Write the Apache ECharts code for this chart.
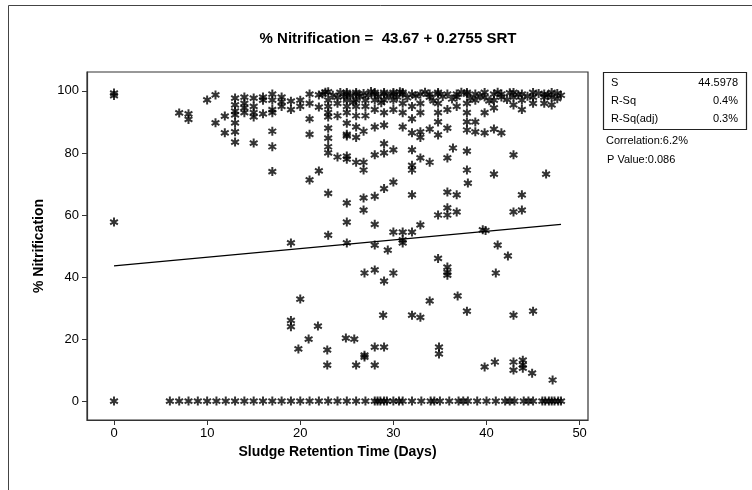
<!DOCTYPE html>
<html><head><meta charset="utf-8">
<script src="https://cdn.jsdelivr.net/npm/echarts@6/dist/echarts.min.js"></script>
<style>html,body{margin:0;padding:0;background:#fff}#c{width:752px;height:490px}</style>
</head><body><div id="c"></div>
<script>
// ---- data ----
var titleText = '% Nitrification =  43.67 + 0.2755 SRT';
var xName = 'Sludge Retention Time (Days)';
var yName = '% Nitrification';
var xTicks = [0, 10, 20, 30, 40, 50];
var yTicks = [0, 20, 40, 60, 80, 100];
var fitLine = [[0, 43.6], [48, 57.0]];
var statLabels = ['S', 'R-Sq', 'R-Sq(adj)'];
var statValues = ['44.5978', '0.4%', '0.3%'];
var extraText = ['Correlation:6.2%', 'P Value:0.086'];

// points with % nitrification = 0
var zeroRowX = [0, 6, 7, 8, 9, 10, 11, 12, 13, 14, 15, 16, 17, 18, 19, 20, 21, 22, 23, 24, 25, 26, 27,
  28, 28.3, 28.6, 29, 29.3, 30, 30.6, 31, 32, 33, 34, 34.4, 35, 36, 37, 37.5, 38, 39, 40, 41, 42, 42.5,
  43, 44, 44.5, 45, 46, 46.3, 46.7, 47, 47.3, 47.7, 48];

// upper cluster, SRT < 22
var earlyPts = [[0, 98.5], [0, 99.3], [0, 57.7], [7, 92.9], [8, 92.6], [8, 90.8], [10, 97.1], [10.9, 98.7],
  [10.9, 89.7], [11.9, 91.9], [11.9, 86.5], [13, 97.7], [13, 95.5], [13, 93.5], [13, 92.3], [13, 89.7],
  [13, 86.8], [13, 83.5], [14, 98], [14, 96], [14, 94.5], [14, 93], [15, 97.7], [15, 95], [15, 93],
  [15, 91.6], [15, 83.2], [16, 98], [16, 97], [16, 92.6], [17, 99], [17, 97], [17, 94], [17, 93],
  [17, 87], [17, 82], [17, 74], [18, 98], [18, 96.5], [18, 95], [19, 96.7], [19, 94], [20, 97], [20, 95],
  [21, 99], [21, 96], [21, 91], [21, 86], [21, 71.3], [22, 98.7], [22, 94.8], [22, 74.2], [22.4, 99]];

// upper band, SRT >= 22
var topBand = [[22.7, 99.6], [23, 99.7], [23, 97], [23, 95], [23, 93], [23, 91.6], [23.5, 98.6], [24, 98],
  [24, 96], [24, 92], [24.3, 99.5], [24.7, 98.2], [25, 99.5], [25, 99], [25, 97], [25, 95], [25, 93],
  [25.4, 98.5], [25.7, 96.4], [26, 99.5], [26, 99], [26, 97], [26, 95], [26, 92], [26.4, 98.3],
  [26.8, 99.2], [27, 97], [27, 95], [27, 92], [27.3, 98.6], [27.6, 99.8], [28, 99.5], [28, 99], [28, 97],
  [28, 94], [28.4, 98.2], [28.7, 96.2], [29, 99.5], [29, 99], [29, 97], [29, 93], [29.5, 98.4],
  [30, 99.5], [30, 99], [30, 97], [30, 94], [30.4, 98.1], [30.7, 99.7], [31, 99.5], [31, 99], [31, 96],
  [31, 93], [31.5, 97.8], [32, 99], [32, 95], [32, 91], [32.4, 98.4], [32.9, 99], [32.9, 96], [32.9, 93],
  [33.4, 99.6], [33.9, 99], [33.9, 98], [34.3, 96.8], [34.8, 99.5], [34.8, 99], [34.8, 96], [34.8, 93],
  [34.8, 90], [35.3, 98.2], [35.8, 99], [35.8, 94], [36.3, 97.4], [36.8, 99], [36.8, 98], [36.8, 95],
  [37.3, 99.6], [37.9, 99.5], [37.9, 99], [37.9, 96], [37.9, 93], [37.9, 90], [38.3, 97.6], [38.8, 99],
  [38.8, 97], [38.8, 90], [39.3, 98.4], [39.8, 99.5], [39.8, 98], [39.8, 93], [40.3, 96.8], [40.8, 99],
  [40.8, 97], [40.8, 94.5], [41.2, 99.6], [41.6, 99], [41.6, 98], [42.2, 97.2], [42.5, 99.4],
  [42.9, 99.5], [42.9, 98], [42.9, 95.5], [43.4, 98.8], [43.8, 99], [43.8, 97], [43.8, 94], [44.4, 98.3],
  [45, 99.5], [45, 98], [45, 96], [45.6, 99.2], [46.2, 99], [46.2, 98], [46.2, 96], [46.6, 98.7],
  [47, 99.5], [47, 98], [47, 95.5], [47.6, 99.2], [47.6, 97.5], [48, 98.6]];

// middle region, SRT >= 22, between ~45 and 90
var midPts = [[23, 88], [23, 84.8], [23, 82], [23, 80], [23, 67], [23, 53.5], [24, 78.7], [25, 89.6],
  [25, 86], [25, 85.5], [25, 79], [25, 78], [25, 63.9], [25, 57.7], [25, 51], [26, 88.4], [26, 85],
  [26, 77], [26.8, 87], [26.8, 77], [26.8, 74.5], [26.8, 65.5], [26.8, 61.6], [28, 88.4], [28, 79.4],
  [28, 66], [28, 57], [28, 50.3], [29, 89], [29, 83], [29, 80], [29, 68.5], [29.4, 48.7], [30, 81],
  [30, 70.6], [30, 54.5], [31, 88.4], [31, 54.5], [31, 52], [31, 51], [32, 86.5], [32, 81], [32, 76],
  [32, 74.5], [32, 66.5], [32, 54.5], [32.9, 86.8], [32.9, 85], [32.9, 78.4], [32.9, 56.8], [33.9, 87.7],
  [33.9, 77], [34.8, 85.8], [34.8, 60], [34.8, 46], [35.8, 88], [35.8, 78.4], [35.8, 67.4], [35.8, 62.3],
  [35.8, 60], [36.4, 81.6], [36.8, 66.5], [36.8, 61], [37.9, 87.4], [37.9, 80.6], [37.9, 74.5],
  [38, 70.3], [38.8, 86.8], [39.6, 55.2], [39.9, 55], [39.8, 86.5], [40.8, 87.7], [40.8, 73.2],
  [41.2, 50.3], [41.6, 86.5], [42.3, 46.8], [42.9, 79.4], [42.9, 61], [43.8, 66.5], [43.8, 61.6],
  [46.4, 73.2], [19, 51]];

// lower region, between ~5 and 45
var lowPts = [[19, 26], [19, 24], [20, 32.9], [19.8, 16.8], [20.9, 20], [21.9, 24.2], [22.9, 16.5],
  [22.9, 11.6], [24.9, 20.3], [25.8, 20], [26.9, 14.8], [26.9, 14.2], [26, 11.6], [26.9, 41.3],
  [28, 42.3], [28, 17.4], [28, 11.6], [28.9, 27.7], [29, 38.7], [29, 17.4], [30, 41.3], [32, 27.7],
  [32.9, 27], [33.9, 32.3], [34.9, 17.4], [34.9, 15.2], [35.8, 43.2], [35.8, 41.5], [35.8, 40.6],
  [36.9, 33.9], [37.9, 29], [39.8, 11], [41, 41.3], [40.9, 12.6], [42.9, 27.7], [42.9, 12.6], [42.9, 10],
  [43.9, 13.2], [43.9, 11.7], [43.9, 10.6], [45, 29], [44.9, 9], [47.1, 6.8]];

// ---- chart ----
var narrow = "'Liberation Sans Narrow','Arial Narrow','Liberation Sans',sans-serif";
var star = 'path://M39,0L61,0L61,100L39,100Z M12.2,15.5L98.8,65.5L87.8,84.5L1.2,34.5Z M1.2,65.5L87.8,15.5L98.8,34.5L12.2,84.5Z';

var allPts = earlyPts.concat(topBand, midPts, lowPts, zeroRowX.map(function (x) { return [x, 0]; }));

var chart = echarts.init(document.getElementById('c'), null, {renderer: 'canvas'});
var statGraphics = [
  {type: 'rect', shape: {x: 8.5, y: 5.5, width: 900, height: 700}, style: {fill: null, stroke: '#444', lineWidth: 1}, silent: true},
  {type: 'rect', shape: {x: 603.5, y: 72.5, width: 143, height: 57}, style: {fill: null, stroke: '#222', lineWidth: 1.2}}
];
var rowY = [83, 101, 119];
statLabels.forEach(function (s, i) {
  statGraphics.push({type: 'text', x: 611, y: rowY[i], style: {text: s, font: "11px 'Liberation Sans',sans-serif", fill: '#000', textVerticalAlign: 'middle', textAlign: 'left'}});
  statGraphics.push({type: 'text', x: 738, y: rowY[i], style: {text: statValues[i], font: "11px 'Liberation Sans',sans-serif", fill: '#000', textVerticalAlign: 'middle', textAlign: 'right'}});
});
statGraphics.push({type: 'text', x: 606, y: 141, style: {text: extraText[0], font: "11px 'Liberation Sans',sans-serif", fill: '#000', textVerticalAlign: 'middle'}});
statGraphics.push({type: 'text', x: 607, y: 160, style: {text: extraText[1], font: "11px 'Liberation Sans',sans-serif", fill: '#000', textVerticalAlign: 'middle'}});
statGraphics.push({type: 'text', x: 388, y: 39, style: {text: titleText, font: "bold 15px " + narrow, fill: '#000', textAlign: 'center', textVerticalAlign: 'middle'}});

chart.setOption({
  animation: false,
  backgroundColor: '#fff',
  grid: {left: 87, top: 72, width: 501, height: 348, show: true, borderColor: '#333', borderWidth: 1.2, backgroundColor: '#fff'},
  xAxis: {
    type: 'value', min: -2.9, max: 50.9,
    name: xName, nameLocation: 'middle', nameGap: 20,
    nameTextStyle: {fontFamily: narrow, fontWeight: 'bold', fontSize: 14, color: '#000'},
    axisLine: {show: true, onZero: false, lineStyle: {color: '#333', width: 1.2}},
    axisTick: {show: true, length: 5, customValues: xTicks, lineStyle: {color: '#333'}},
    axisLabel: {customValues: xTicks, fontFamily: narrow, fontSize: 13, color: '#000', margin: 7},
    splitLine: {show: false}
  },
  yAxis: {
    type: 'value', min: -6.1, max: 106.1,
    name: yName, nameLocation: 'middle', nameGap: 38, nameRotate: 90,
    nameTextStyle: {fontFamily: narrow, fontWeight: 'bold', fontSize: 14, color: '#000'},
    axisLine: {show: true, onZero: false, lineStyle: {color: '#333', width: 1.2}},
    axisTick: {show: true, length: 5, customValues: yTicks, lineStyle: {color: '#333'}},
    axisLabel: {customValues: yTicks, fontFamily: narrow, fontSize: 13, color: '#000', margin: 8},
    splitLine: {show: false}
  },
  graphic: statGraphics,
  series: [
    {type: 'line', data: fitLine, symbol: 'none', lineStyle: {color: '#000', width: 1.3}, z: 3},
    {type: 'scatter', data: allPts, symbol: star, symbolSize: 9, symbolKeepAspect: true,
     itemStyle: {color: '#000'}, z: 4}
  ]
});
</script></body></html>
